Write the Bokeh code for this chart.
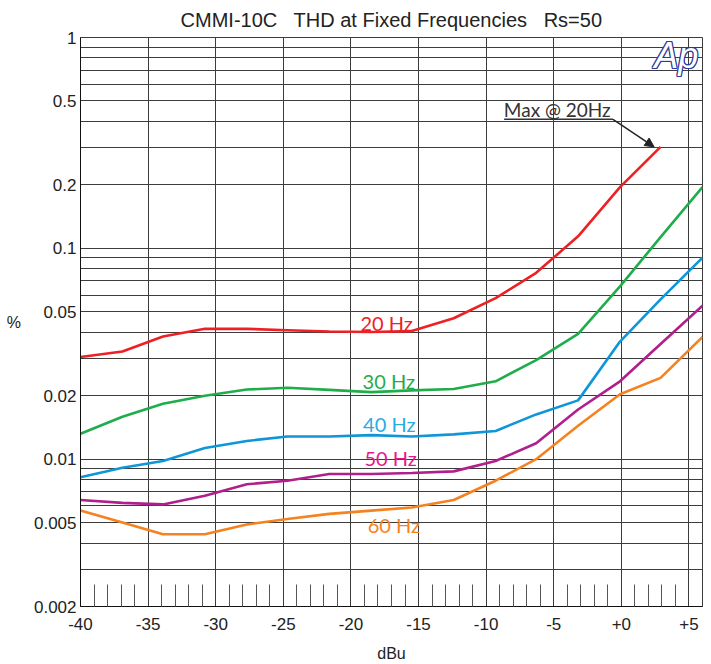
from bokeh.plotting import figure
from bokeh.models import Range1d, FixedTicker, CustomJSTickFormatter, Arrow, NormalHead, Label
from bokeh.embed import file_html
from bokeh.resources import INLINE

NB = "\u00a0"
TITLE = "CMMI-10C" + NB + NB + " THD at Fixed Frequencies" + NB + NB + " Rs=50"
X_LABEL = "dBu"
Y_LABEL = "%"

LEVEL_DBU = [-40, -36.9, -33.9, -30.8, -27.7, -24.7, -21.6, -18.5,
             -15.5, -12.4, -9.3, -6.3, -3.2, -0.1, 2.9, 6.0]
THD_20HZ = [0.0305, 0.0324, 0.0382, 0.0415, 0.0415, 0.0409, 0.0403, 0.0401,
            0.0405, 0.0466, 0.058, 0.0765, 0.114, 0.195, 0.303]
THD_30HZ = [0.0132, 0.0159, 0.0183, 0.0200, 0.0214, 0.0218, 0.0213, 0.0208,
            0.0212, 0.0215, 0.0234, 0.0295, 0.0393, 0.066, 0.113, 0.195]
THD_40HZ = [0.0082, 0.0091, 0.0098, 0.0113, 0.0122, 0.0128, 0.0128, 0.0130,
            0.0128, 0.0131, 0.0136, 0.0163, 0.0190, 0.0361, 0.0573, 0.0904]
THD_50HZ = [0.0064, 0.0062, 0.0061, 0.0067, 0.0076, 0.0079, 0.0085, 0.0085,
            0.0086, 0.00875, 0.0098, 0.0119, 0.0172, 0.0234, 0.0352, 0.0535]
THD_60HZ = [0.0057, 0.0050, 0.0044, 0.0044, 0.0049, 0.0052, 0.0055, 0.0057,
            0.0059, 0.0064, 0.0079, 0.0100, 0.0144, 0.0203, 0.0243, 0.038]
SERIES_NAMES = ["20 Hz", "30 Hz", "40 Hz", "50 Hz", "60 Hz"]

X_TICKS = [-40, -35, -30, -25, -20, -15, -10, -5, 0, 5]
X_MINOR = [v for v in range(-39, 5) if v % 5 != 0]
Y_TICKS = [0.002, 0.005, 0.01, 0.02, 0.05, 0.1, 0.2, 0.5, 1]
Y_GRID = [m * d for d in (0.001, 0.01, 0.1) for m in range(1, 10) if m * d >= 0.0019] + [1]

ANNOT_TEXT = "Max @ 20Hz"

# styling / layout
LINE_COLORS = ["#ee2024", "#1fad4b", "#0e96d8", "#b01f8c", "#f5821f"]
LABEL_COLORS = ["#ee2024", "#1fad4b", "#29abe2", "#e6178c", "#f5821f"]
LABEL_POS = [(-19.3, 0.0420), (-19.14, 0.0222), (-19.1, 0.01385), (-19.0, 0.00957), (-18.76, 0.00459)]
LIFT = 5
GRID_COLOR = "#3c3c3c"
TICK_FONT = "Liberation Sans"
CURVE_FONT = "Lato"

p = figure(width=711, height=664, output_backend="svg", toolbar_location=None,
           x_range=Range1d(-40, 6), y_range=Range1d(0.002, 1), y_axis_type="log",
           min_border_left=80, min_border_right=9, min_border_top=36, min_border_bottom=56,
           title=TITLE)
p.title.align = "center"
p.title.text_font = TICK_FONT
p.title.text_font_size = "20px"
p.title.text_font_style = "normal"
p.title.text_color = "#222222"
p.title.standoff = 13

p.background_fill_color = "white"
p.border_fill_color = "white"
p.outline_line_color = GRID_COLOR
p.outline_line_width = 1

p.xaxis.ticker = FixedTicker(ticks=X_TICKS, minor_ticks=X_MINOR)
p.xaxis.formatter = CustomJSTickFormatter(code="return (tick >= 0 ? '+' : '') + tick.toString();")
p.xaxis.major_tick_in = 0
p.xaxis.major_tick_out = 0
p.xaxis.minor_tick_in = 22
p.xaxis.minor_tick_out = 0
p.xaxis.minor_tick_line_color = "#555555"
p.xaxis.axis_line_color = "#111111"
p.xaxis.major_label_standoff = 11
p.xaxis.axis_label = X_LABEL
p.xaxis.axis_label_standoff = 12

p.yaxis.ticker = FixedTicker(ticks=Y_TICKS)
p.yaxis.formatter = CustomJSTickFormatter(code="return tick.toString();")
p.yaxis.major_tick_in = 0
p.yaxis.major_tick_out = 0
p.yaxis.minor_tick_in = 0
p.yaxis.minor_tick_out = 0
p.yaxis.axis_line_color = "#111111"
p.yaxis.major_label_standoff = 4
p.yaxis.axis_label = Y_LABEL
p.yaxis.axis_label_orientation = "horizontal"
p.yaxis.axis_label_standoff = 10

for ax in (p.xaxis, p.yaxis):
    ax.major_label_text_font = TICK_FONT
    ax.major_label_text_font_size = "17px"
    ax.major_label_text_color = "#222222"
    ax.axis_label_text_font = TICK_FONT
    ax.axis_label_text_font_size = "16px"
    ax.axis_label_text_font_style = "normal"
    ax.axis_label_text_color = "#222222"

p.xgrid.ticker = FixedTicker(ticks=X_TICKS)
p.ygrid.ticker = FixedTicker(ticks=Y_GRID)
for g in (p.xgrid, p.ygrid):
    g.grid_line_color = GRID_COLOR
    g.grid_line_width = 1
    g.grid_line_alpha = 1

all_series = [THD_20HZ, THD_30HZ, THD_40HZ, THD_50HZ, THD_60HZ]
for name, ys, lc, tc, (lx, ly) in zip(SERIES_NAMES, all_series, LINE_COLORS, LABEL_COLORS, LABEL_POS):
    p.line(LEVEL_DBU[:len(ys)], ys, line_color=lc, line_width=2.6)
    p.add_layout(Label(x=lx, y=ly, y_offset=LIFT, text=name, text_color=tc, text_font=CURVE_FONT,
                       text_font_size="20px", text_baseline="alphabetic", text_align="left"))

# "Max @ 20Hz" annotation
p.add_layout(Label(x=-8.69, y=0.424, y_offset=LIFT + 2, text=ANNOT_TEXT, text_color="#333333",
                   text_font=CURVE_FONT, text_font_size="19px", text_baseline="alphabetic",
                   text_align="left"))
p.line([-8.67, -0.62], [0.409, 0.409], line_color="#333333", line_width=1.5)
p.add_layout(Arrow(end=NormalHead(size=9, fill_color="#222222", line_color="#222222"),
                   x_start=-0.62, y_start=0.409, x_end=2.42, y_end=0.303,
                   line_color="#222222", line_width=1.5))

# Ap logo (outlined)
for dx, dy in [(-1, 0), (1, 0), (0, -1), (0, 1), (-1, -1), (1, 1), (-1, 1), (1, -1)]:
    p.add_layout(Label(x=2.44, y=0.746, x_offset=dx, y_offset=dy + LIFT + 4, text="Ap",
                       text_color="#2a3a9c", text_font="Liberation Sans", text_font_size="36px",
                       text_font_style="italic", text_baseline="alphabetic"))
p.add_layout(Label(x=2.44, y=0.746, y_offset=LIFT + 4, text="Ap", text_color="white",
                   text_font="Liberation Sans", text_font_size="36px", text_font_style="italic",
                   text_baseline="alphabetic"))

open("out.html", "w").write(file_html(p, INLINE))
